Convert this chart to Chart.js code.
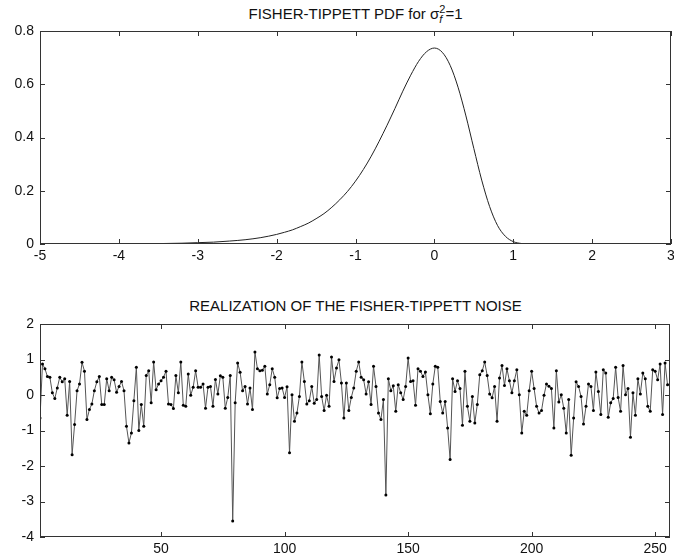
<!DOCTYPE html>
<html>
<head>
<meta charset="utf-8">
<script src="https://cdn.jsdelivr.net/npm/chart.js@4"></script>
<style>
  body { margin: 0; background: #fff; font-family: "Liberation Sans", Arial, sans-serif; }
  #wrap { position: relative; width: 674px; height: 560px; overflow: hidden; }
  canvas { position: absolute; left: 0; }
  .title { position: absolute; left: 40px; width: 631px; text-align: center; font-size: 15px; color: #111; line-height: 17px; }
  .title sub, .title sup { font-size: 11px; line-height: 0; }
</style>
</head>
<body>
<div id="wrap">
  <div class="title" style="top:5px">FISHER-TIPPETT PDF for &sigma;<sub><i>f</i></sub><sup style="margin-left:-3px">2</sup>=1</div>
  <canvas id="pdfChart" width="674" height="272" style="top:0"></canvas>
  <div class="title" style="top:297px">REALIZATION OF THE FISHER-TIPPETT NOISE</div>
  <canvas id="noiseChart" width="674" height="270" style="top:290px"></canvas>
</div>
<script>
// Top panel: PDF curve
const pdfX = [-5, -4.5, -4, -3.6, -3.4, -3.2, -3, -2.8, -2.6, -2.4, -2.2, -2, -1.9, -1.8, -1.7, -1.6, -1.5,
  -1.4, -1.3, -1.2, -1.1, -1, -0.9, -0.8, -0.7, -0.6, -0.5, -0.4, -0.3, -0.2, -0.1, 0, 0.1, 0.2, 0.3,
  0.4, 0.5, 0.6, 0.7, 0.8, 0.9, 1, 1.1, 1.2, 1.5, 1.9];
const pdfY = [0, 0, 0.001, 0.001, 0.002, 0.003, 0.005, 0.007, 0.011, 0.016, 0.024, 0.036, 0.044, 0.053, 0.065, 0.078, 0.095,
  0.114, 0.138, 0.166, 0.198, 0.236, 0.28, 0.33, 0.386, 0.446, 0.509, 0.574, 0.634, 0.686, 0.722, 0.736, 0.72, 0.671, 0.589,
  0.481, 0.359, 0.24, 0.141, 0.07, 0.029, 0.009, 0.002, 0, 0, 0];
const pdfXTicks = [-5, -4, -3, -2, -1, 0, 1, 2, 3];
const pdfYTicks = [0, 0.2, 0.4, 0.6, 0.8];

// Bottom panel: one realization, 256 samples
const noise = [
  -0.65, 0.87, 0.74, 0.52, 0.5, 0.06, -0.1, 0.2, 0.5, 0.37, 0.46, -0.57, 0.38, -1.68, -0.83, 0.12,
  0.31, 0.92, 0.67, -0.69, -0.41, -0.25, 0.12, 0.37, 0.52, -0.27, -0.27, 0.46, 0.12, 0.5, 0.43, 0.08,
  0.24, 0.38, 0.12, -0.88, -1.35, -1.07, -0.16, 0.78, -1.0, -0.27, -0.88, 0.55, 0.68, -0.22, 0.93, 0.15,
  0.31, 0.4, 0.5, 0.67, -0.25, -0.27, -0.38, 0.55, 0.06, 0.93, -0.29, -0.32, 0.59, -0.01, 0.22, 0.68,
  0.22, 0.22, 0.31, -0.37, 0.22, 0.24, -0.32, 0.44, 0.03, 0.54, 0.5, -0.37, -0.07, 0.55, -3.55, -0.22,
  0.9, 0.64, 0.12, 0.24, -0.25, 0.2, -0.41, 1.21, 0.74, 0.68, 0.7, 0.81, 0.03, 0.29, 0.74, 0.5,
  -0.08, 0.18, 0.2, -0.07, 0.23, -1.63, 0.01, -0.74, -0.51, -0.04, 0.93, 0.38, -0.25, -0.16, 0.24, -0.23,
  -0.13, 1.13, -0.04, -0.44, -0.01, -0.32, 1.07, 0.38, 0.76, 0.99, 0.34, -0.65, 0.34, -0.44, -0.07, 0.2,
  0.67, 0.93, 0.5, 0.43, 0.03, 0.37, -0.27, 0.81, 0.24, -0.51, -0.69, -0.13, -2.82, 0.46, 0.12, 0.26,
  -0.46, 0.29, 0.06, -0.13, 0.24, 1.04, 0.38, 0.4, -0.29, 0.74, 0.67, 0.52, 0.65, 0.01, -0.53, 0.31,
  0.81, 0.78, -0.18, -0.51, -0.18, -0.93, -1.82, 0.46, 0.1, 0.4, 0.18, -0.85, 0.67, -0.32, -0.74, -0.04,
  -0.79, -0.27, 0.57, 0.68, 0.93, 0.55, 0.03, -0.08, 0.24, -0.74, 0.48, 0.83, 0.27, 0.74, 0.4, 0.06,
  0.4, 0.71, 0.01, -1.07, -0.46, -0.57, 0.12, 0.67, 0.18, -0.32, -0.51, -0.44, -0.01, 0.31, 0.25, 0.18,
  -0.93, 0.68, -0.2, 0.01, -0.37, -1.07, -0.13, -1.7, -0.65, 0.37, 0.24, -0.04, -0.82, -0.32, 0.31, 0.24,
  -0.44, 0.65, 0.1, -0.55, 0.71, 0.62, -0.63, -0.22, -0.1, 0.78, -0.07, -0.46, 0.83, 0.01, 0.18, -1.19,
  0.06, -0.57, 0.46, 0.03, 0.62, 0.46, -0.32, -0.46, 0.71, 0.67, 0.43, 0.87, -0.55, 0.9, 0.29, 0.3
];
const noiseXTicks = [50, 100, 150, 200, 250];
const noiseYTicks = [-4, -3, -2, -1, 0, 1, 2];

const tickFont = { family: '"Liberation Sans", Arial, sans-serif', size: 14 };
const frameColor = '#333';

// MATLAB style box with inward ticks on all four sides
const boxPlugin = {
  id: 'box',
  afterDraw(chart) {
    const { ctx, chartArea: a, scales } = chart;
    const len = 5;
    ctx.save();
    ctx.strokeStyle = frameColor;
    ctx.lineWidth = 1;
    ctx.strokeRect(a.left + 0.5, a.top + 0.5, a.right - a.left - 1, a.bottom - a.top - 1);
    ctx.beginPath();
    scales.x.ticks.forEach(t => {
      const px = Math.round(scales.x.getPixelForValue(t.value)) + 0.5;
      ctx.moveTo(px, a.bottom); ctx.lineTo(px, a.bottom - len);
      ctx.moveTo(px, a.top); ctx.lineTo(px, a.top + len);
    });
    scales.y.ticks.forEach(t => {
      const py = Math.round(scales.y.getPixelForValue(t.value)) + 0.5;
      ctx.moveTo(a.left, py); ctx.lineTo(a.left + len, py);
      ctx.moveTo(a.right, py); ctx.lineTo(a.right - len, py);
    });
    ctx.stroke();
    ctx.restore();
  }
};

function axis(min, max, ticks, fit, pad) {
  return {
    type: 'linear',
    min: min,
    max: max,
    grid: { display: false, drawTicks: false },
    border: { display: false },
    ticks: { font: tickFont, color: '#111', padding: pad, maxRotation: 0 },
    afterBuildTicks: s => { s.ticks = ticks.map(v => ({ value: v })); },
    afterFit: s => {
      fit(s);
      // keep the plot box fixed, labels may hang over the edge
      s.paddingLeft = 0; s.paddingRight = 0;
      s.paddingTop = 0; s.paddingBottom = 0;
    }
  };
}

new Chart(document.getElementById('pdfChart'), {
  type: 'line',
  data: {
    datasets: [{
      data: pdfX.map((x, i) => ({ x: x, y: pdfY[i] })),
      borderColor: '#222',
      borderWidth: 1,
      pointRadius: 0,
      cubicInterpolationMode: 'monotone',
      fill: false
    }]
  },
  options: {
    responsive: false,
    animation: false,
    devicePixelRatio: 1,
    layout: { padding: { top: 31, right: 3, left: 0, bottom: 0 } },
    plugins: { legend: { display: false }, tooltip: { enabled: false } },
    scales: {
      x: axis(-5, 3, pdfXTicks, s => { s.height = 28; }, 4),
      y: axis(0, 0.8, pdfYTicks, s => { s.width = 40; }, 6)
    }
  },
  plugins: [boxPlugin]
});

new Chart(document.getElementById('noiseChart'), {
  type: 'line',
  data: {
    datasets: [{
      data: noise.map((v, i) => ({ x: i + 1, y: v })),
      borderColor: '#555',
      borderWidth: 1,
      pointRadius: 1.5,
      pointBackgroundColor: '#000',
      pointBorderColor: '#000',
      pointBorderWidth: 0,
      tension: 0,
      fill: false
    }]
  },
  options: {
    responsive: false,
    animation: false,
    devicePixelRatio: 1,
    layout: { padding: { top: 34, right: 3, left: 0, bottom: 0 } },
    plugins: { legend: { display: false }, tooltip: { enabled: false } },
    scales: {
      x: axis(1, 256, noiseXTicks, s => { s.height = 23; }, 4),
      y: axis(-4, 2, noiseYTicks, s => { s.width = 40; }, 6)
    }
  },
  plugins: [boxPlugin]
});
</script>
</body>
</html>
